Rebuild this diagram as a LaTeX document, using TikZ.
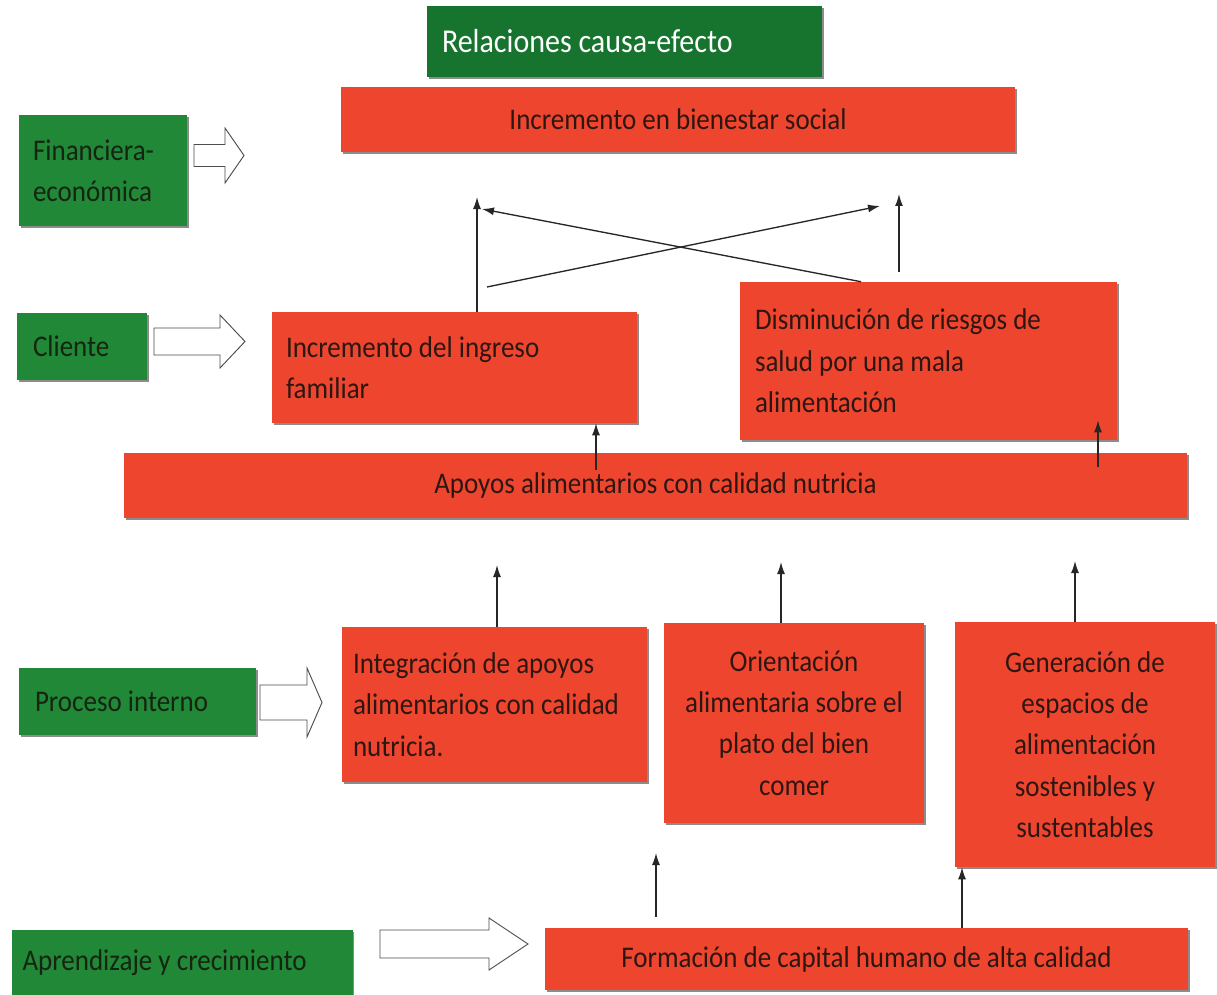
\documentclass[tikz,border=0pt]{standalone}
\usepackage{fontspec}
\setmainfont{Carlito}[FakeStretch=0.9]
\usetikzlibrary{arrows.meta,calc}
\definecolor{boxred}{RGB}{238,70,46}
\definecolor{boxgreen}{RGB}{32,136,54}
\definecolor{titlegreen}{RGB}{22,116,46}
\definecolor{txtdark}{RGB}{45,22,18}
\definecolor{grntxt}{RGB}{22,36,18}
\newcommand\blockarrow[6]{%
  \draw[blockar] (#1,#3-#4/2) -- (#2-#6,#3-#4/2) -- (#2-#6,#3-#5/2) -- (#2,#3)
    -- (#2-#6,#3+#5/2) -- (#2-#6,#3+#4/2) -- (#1,#3+#4/2) -- cycle;}
\tikzset{
  shadowed/.style={preaction={fill=black!45, transform canvas={xshift=1.2pt,yshift=-1.2pt}}},
  redbox/.style={shadowed, fill=boxred, text=txtdark, inner ysep=0pt,
    font=\fontsize{22.5pt}{31pt}\selectfont},
  greenbox/.style={shadowed, fill=boxgreen, text=grntxt, inner ysep=0pt,
    font=\fontsize{22.5pt}{31pt}\selectfont},
  blockar/.style={draw=black!70, fill=white, line width=0.7pt, line join=miter},
  conn/.style={draw=black!85, line width=1pt, -{Latex[length=9pt,width=6pt]}},
}
\begin{document}
\begin{tikzpicture}[x=0.75pt,y=-0.75pt]
\useasboundingbox[fill=white] (0,0) rectangle (1217,995);

% title
\node[greenbox, fill=titlegreen, text=white, font=\fontsize{25pt}{30pt}\selectfont,
  minimum width=296.25pt, minimum height=53.25pt, inner xsep=11.25pt,
  text width=273.75pt, align=flush left] (title) at (624.5,41.5) {Relaciones causa-efecto};

% perspectives (green)
\node[greenbox, minimum width=126pt, minimum height=83.25pt, inner xsep=10.5pt,
  text width=105pt, align=flush left] (fin) at (103,170.5) {Financiera-\\econ\'omica};
\node[greenbox, minimum width=97.5pt, minimum height=50.25pt, inner xsep=12pt,
  text width=73.5pt, align=flush left] (cli) at (82,346.5) {Cliente};
\node[greenbox, minimum width=177.75pt, minimum height=50.25pt, inner xsep=12pt,
  text width=153.75pt, align=flush left] (proc) at (137.5,701.5) {Proceso interno};
\node[greenbox, minimum width=255.75pt, minimum height=48.75pt, inner xsep=8.25pt,
  text width=239.25pt, align=flush left] (apr) at (182,962.5) {Aprendizaje y crecimiento};

% red boxes
\node[redbox, minimum width=505.5pt, minimum height=48.75pt, align=center] (bien)
  at (678,119.5) {Incremento en bienestar social};
\node[redbox, minimum width=273.75pt, minimum height=83.25pt, inner xsep=10.5pt,
  text width=252.75pt, align=flush left] (ingreso) at (454.5,367.5)
  {Incremento del ingreso\\familiar};
\node[redbox, minimum width=282.75pt, minimum height=118.5pt, inner xsep=11.25pt,
  text width=260.25pt, align=flush left] (dism) at (928.5,361)
  {Disminuci\'on de riesgos de\\salud por una mala\\alimentaci\'on};
\node[redbox, minimum width=797.25pt, minimum height=48.75pt, align=center] (apoyos)
  at (655.5,485.5) {Apoyos alimentarios con calidad nutricia};
\node[redbox, minimum width=228.75pt, minimum height=116.25pt, inner xsep=8.25pt,
  text width=212.25pt, align=flush left] (integ) at (494.5,704.5)
  {Integraci\'on de apoyos\\alimentarios con calidad\\nutricia.};
\node[redbox, minimum width=195pt, minimum height=150pt, inner xsep=4pt,
  text width=187pt, align=flush center] (orient) at (794,723)
  {Orientaci\'on\\alimentaria sobre el\\plato del bien\\comer};
\node[redbox, minimum width=195pt, minimum height=183.75pt, inner xsep=4pt,
  text width=187pt, align=flush center] (gen) at (1085,744.5)
  {Generaci\'on de\\espacios de\\alimentaci\'on\\sostenibles y\\sustentables};
\node[redbox, minimum width=482.25pt, minimum height=46.5pt, align=center] (form)
  at (866.5,959) {Formaci\'on de capital humano de alta calidad};

% block arrows
\blockarrow{194}{244}{155.5}{22}{55}{19}
\blockarrow{154}{245}{341.5}{27}{53}{25}
\blockarrow{260}{322}{702.5}{35}{69}{15}
\blockarrow{380}{528}{944}{28}{52}{39}

% free ends
\coordinate (t1) at (477,197);
\coordinate (tb) at (482,209);
\coordinate (sa) at (487,287);
\coordinate (ta) at (880,206);
\coordinate (sr) at (899,272);
\coordinate (tr) at (899,194);
\coordinate (ti) at (497,565);
\coordinate (to) at (781,562);
\coordinate (tg) at (1075,561);
\coordinate (sf) at (656,917);
\coordinate (tf) at (656,853);

% connectors
\draw[conn] (ingreso.north -| 477,0) -- (t1);
\draw[conn] (dism.north -| 861,0) -- (tb);
\draw[conn] (sa) -- (ta);
\draw[conn] (sr) -- (tr);
\draw[conn] ($(apoyos.north -| 596,0)+(0,17)$) -- (ingreso.south -| 596,0);
\draw[conn] ($(apoyos.north -| 1098,0)+(0,14)$) -- ($(dism.south -| 1098,0)+(0,-20)$);
\draw[conn] (integ.north -| 497,0) -- (ti);
\draw[conn] (orient.north -| 781,0) -- (to);
\draw[conn] (gen.north -| 1075,0) -- (tg);
\draw[conn] (sf) -- (tf);
\draw[conn] (form.north -| 962,0) -- (gen.south -| 962,0);
\end{tikzpicture}
\end{document}
